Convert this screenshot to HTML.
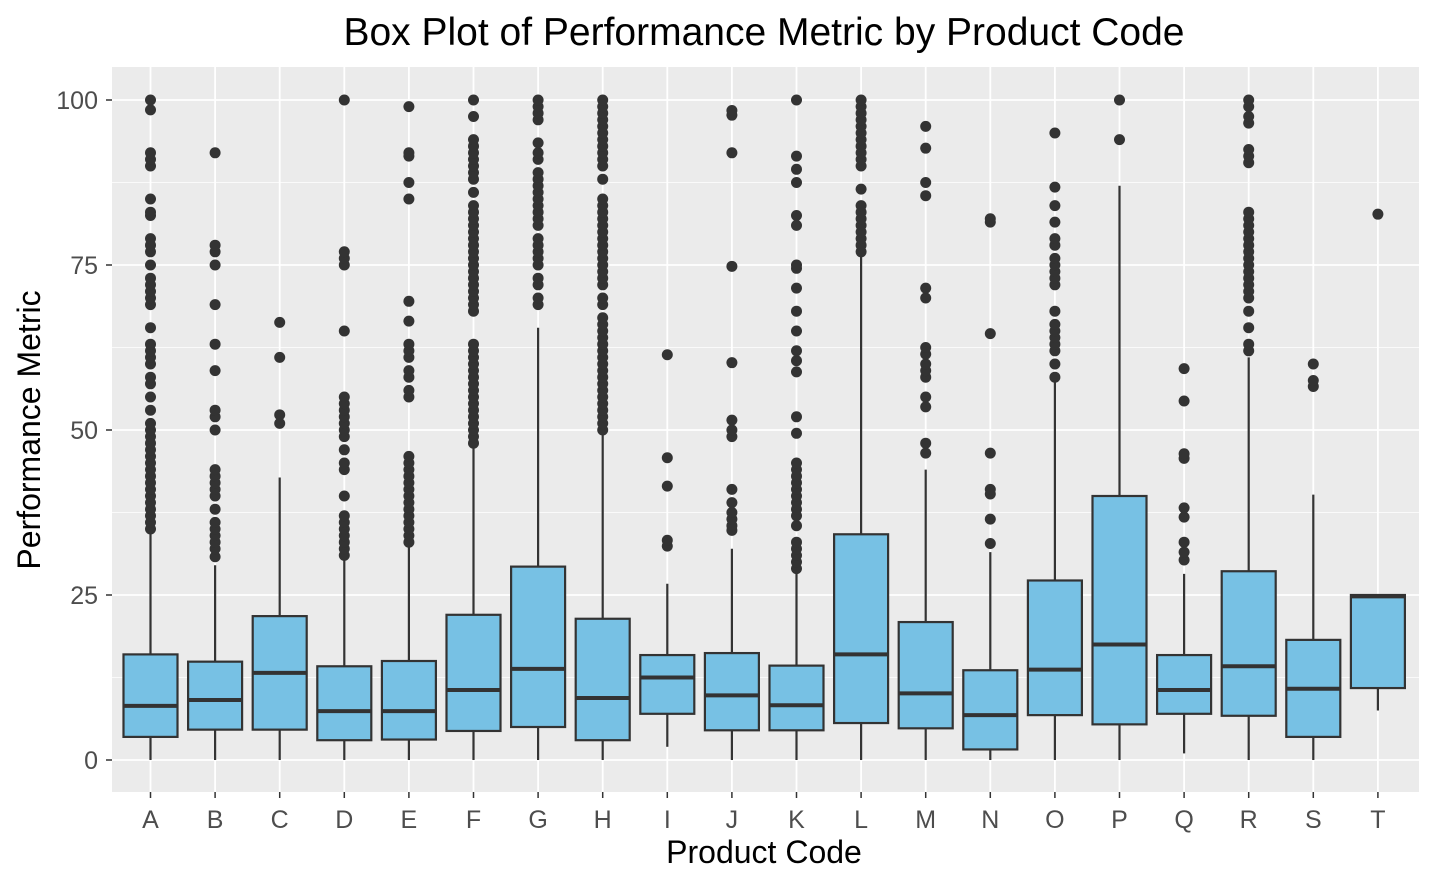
<!DOCTYPE html>
<html><head><meta charset="utf-8"><style>
html,body{margin:0;padding:0;background:#fff;}
svg{display:block;font-family:"Liberation Sans",Arial,sans-serif;}
</style></head><body>
<svg id="chart" width="1434" height="886">
<rect x="0" y="0" width="1434" height="886" fill="#fff"/>
<rect x="112" y="67" width="1307" height="725" fill="#EBEBEB"/>
<g id="grid"></g>
<g id="marks"></g>
<g id="axes"></g>
<text x="764" y="45" text-anchor="middle" font-size="39" fill="#000">Box Plot of Performance Metric by Product Code</text>
<text x="764" y="863" text-anchor="middle" font-size="32" fill="#000">Product Code</text>
<text x="0" y="0" transform="translate(40,430) rotate(-90)" text-anchor="middle" font-size="32" fill="#000">Performance Metric</text>
</svg>
<script>
const categories=["A","B","C","D","E","F","G","H","I","J","K","L","M","N","O","P","Q","R","S","T"];
const whiskerLow=[0,0,0,0,0,0,0,0,2,0,0,0,0,0,0,0,1,0,0,7.5];
const q1=[3.5,4.6,4.6,3,3.1,4.4,5,3,7,4.5,4.5,5.6,4.8,1.6,6.8,5.4,7,6.7,3.5,10.9];
const medians=[8.2,9.1,13.2,7.4,7.4,10.6,13.8,9.4,12.5,9.8,8.3,16,10.1,6.8,13.7,17.5,10.6,14.2,10.8,24.8];
const q3=[16,14.9,21.8,14.2,15,22,29.3,21.4,15.9,16.2,14.3,34.2,20.9,13.6,27.2,40,15.9,28.6,18.2,25];
const whiskerHigh=[35,29.5,42.8,30.5,32.5,48,65.5,49.5,26.7,32,28.5,77,44,31.5,57.5,87,28.2,61,40.2,25];
const outliers=[
[35,36,37,38,39,40,41,42,43,44,45,46,47,48,49,50,51,53,55,57,58,60,61,62,63,65.5,69,70,71,72,73,75,77,78,79,82.5,83,85,90,91,92,98.5,100],
[30.8,32,33,34,35,36,38,40,41,42,43,44,50,52,53,59,63,69,75,77,78,92],
[51,52.3,61,66.3],
[31,32,33,34,35,36,37,40,44,45,47,49,50,51,52,53,54,55,65,75,76,77,100],
[33,34,35,36,37,38,39,40,41,42,43,44,45,46,55,56,58,59,61,62,63,66.5,69.5,85,87.5,91.5,92,99],
[48,49,50,51,52,53,54,55,56,57,58,59,60,61,62,63,68,69,70,71,72,73,74,75,76,77,78,79,80,81,82,83,84,86,88,89,90,91,92,93,94,97.5,100],
[69,70,72,73,75,76,77,78,79,81,82,83,84,85,86,87,88,89,91,92,93.5,97,98,99,100],
[50,51,52,53,54,55,56,57,58,59,60,61,62,63,64,65,66,67,69,70,72,73,74,75,76,77,78,79,80,81,82,83,84,85,88,90,91,92,93,94,95,96,97,98,99,100],
[32.4,33.3,41.5,45.8,61.4],
[34.8,35.5,36.5,37.5,39,41,49,50,51.5,60.2,74.8,92,97.7,98.4],
[29,30,31,32,33,35.5,37,38,39,40,41,42,43,44,45,49.5,52,58.8,60.5,62,65,68,71.5,74.5,75,81,82.5,87.5,89.5,91.5,100],
[77,78,79,80,81,82,83,84,86.5,90,91,92,93,94,95,96,97,98,99,100],
[46.5,48,53.5,55,58,59,60,61.5,62.5,70,71.5,85.5,87.5,92.7,96],
[32.8,36.5,40.3,41,46.5,64.6,81.5,82],
[58,60,62,63,64,65,66,68,72,73,74,75,76,78,79,81.5,84,86.8,95],
[94,100],
[30.3,31.5,33,36.8,38.2,45.7,46.4,54.4,59.3],
[62,63,65.5,68,70,71,72,73,74,75,76,77,78,79,80,81,82,83,90.5,91.5,92.5,96.5,97.5,99,100],
[56.6,57.5,60],
[82.7]
];
const yTicks=[0,25,50,75,100];
const ns="http://www.w3.org/2000/svg";
const x0=150.5,dx=64.6,y0=760,py=6.6,bw=54;
const xS=i=>x0+i*dx, yS=v=>y0-v*py;
function mk(t,a,p){const e=document.createElementNS(ns,t);for(const k in a)e.setAttribute(k,a[k]);p.appendChild(e);return e;}
const grid=document.getElementById('grid'),marks=document.getElementById('marks'),axes=document.getElementById('axes');
for(let v=12.5;v<=100;v+=25){const l=mk('line',{x1:112,x2:1419,y1:yS(v),y2:yS(v),stroke:'#fff','stroke-width':0.8},grid);

}
yTicks.forEach(v=>{const l=mk('line',{x1:112,x2:1419,y1:yS(v),y2:yS(v),stroke:'#fff','stroke-width':1.8},grid);


mk('line',{x1:106,x2:112,y1:yS(v),y2:yS(v),stroke:'#333','stroke-width':1.5},axes);
const t=mk('text',{x:98,y:yS(v)+9,'text-anchor':'end','font-size':25,fill:'#4D4D4D'},axes);t.textContent=v;

});
categories.forEach((c,i)=>{const x=xS(i);
const g=mk('line',{x1:x,x2:x,y1:67,y2:792,stroke:'#fff','stroke-width':1.8},grid);


mk('line',{x1:x,x2:x,y1:792,y2:798,stroke:'#333','stroke-width':1.5},axes);
const t=mk('text',{x:x,y:828,'text-anchor':'middle','font-size':25,fill:'#4D4D4D'},axes);t.textContent=c;


const g2=mk('g',{},marks);


mk('line',{x1:x,x2:x,y1:yS(whiskerLow[i]),y2:yS(q1[i]),stroke:'#333','stroke-width':2.2},g2);
mk('line',{x1:x,x2:x,y1:yS(q3[i]),y2:yS(whiskerHigh[i]),stroke:'#333','stroke-width':2.2},g2);
mk('rect',{x:x-bw/2,y:yS(q3[i]),width:bw,height:yS(q1[i])-yS(q3[i]),fill:'#77C1E4',stroke:'#333','stroke-width':2.2},g2);
mk('line',{x1:x-bw/2,x2:x+bw/2,y1:yS(medians[i]),y2:yS(medians[i]),stroke:'#333','stroke-width':4},g2);
outliers[i].forEach(v=>{const p=mk('circle',{cx:x,cy:yS(v),r:5.5,fill:'#333'},g2);

});
});
</script>
</body></html>
